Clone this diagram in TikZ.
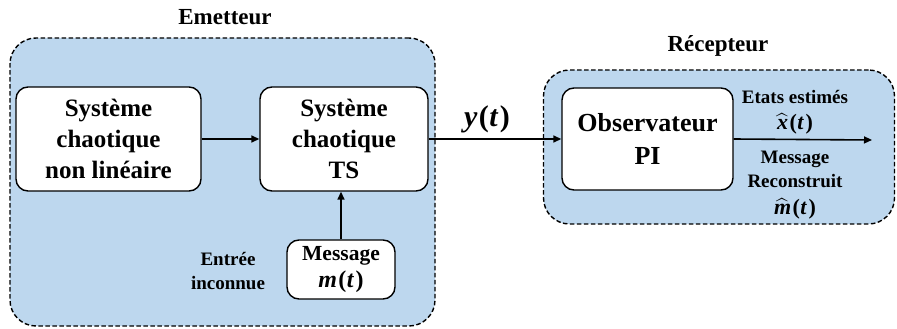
\documentclass[tikz,border=0pt]{standalone}
\usepackage{fontspec}
\setmainfont{Liberation Serif}
\usepackage{amsmath}
\usetikzlibrary{arrows.meta}
\definecolor{panelblue}{RGB}{189,215,238}
% bold italic symbol set in the text face
\newcommand{\bfit}[1]{\textbf{\textit{#1}}}
% signal of time: symbol, then (t), loosely spaced
\newcommand{\sig}[1]{#1\kern1.5pt(\kern0.5pt\bfit{t}\kern1.5pt)}
\begin{document}
\begin{tikzpicture}[x=1pt,y=-1pt,
  panel/.style={draw, dash pattern=on 4.5pt off 2.5pt, line width=1.4pt,
    fill=panelblue, rounded corners=26pt, inner sep=0pt},
  block/.style={draw, line width=1.4pt, fill=white, rounded corners=12pt,
    align=center, inner sep=0pt, font=\bfseries\fontsize{25}{31}\selectfont},
  link/.style={line width=1.6pt, -{Triangle[length=8pt,width=7pt]}},
  title/.style={font=\bfseries\fontsize{23}{27}\selectfont},
  lbl/.style={font=\bfseries\fontsize{19}{23}\selectfont, align=center, inner sep=1pt},
  sym/.style={font=\bfseries\fontsize{22}{26}\selectfont, inner sep=1pt}]
  \useasboundingbox (0,0) rectangle (897,329);

  % transmitter and receiver panels
  \node[panel, minimum width=425pt, minimum height=288pt] (tx) at (222.5,182) {};
  \node[panel, minimum width=351pt, minimum height=154pt] (rx) at (719,147) {};
  \node[title] (txlbl) at (225,17) {Emetteur};
  \node[title] (rxlbl) at (718,46) {Récepteur};

  % blocks
  \node[block, minimum width=185pt, minimum height=104pt] (nl) at (108.5,139)
    {Système\\chaotique\\non linéaire};
  \node[block, minimum width=168pt, minimum height=104pt] (ts) at (344,139)
    {Système\\chaotique\\TS};
  \node[block, minimum width=108pt, minimum height=59pt,
    font=\bfseries\fontsize{21.5}{27}\selectfont] (msg) at (341,269.5)
    {Message\\{\fontsize{24}{27}\selectfont\sig{\bfit{m}}}};
  \node[block, minimum width=171pt, minimum height=102pt,
    font=\bfseries\fontsize{26}{33}\selectfont] (obs) at (647.5,139)
    {Observateur\\PI};
  \coordinate (out) at (872,140);

  % labels
  \node[lbl, font=\bfseries\fontsize{19}{24}\selectfont] (unk) at (228,271)
    {Entrée\\inconnue};
  \node[font=\bfseries\fontsize{30}{34}\selectfont] (yt) at (487,119)
    {\sig{\bfit{y}}};
  \node[lbl] (est) at (795,97) {Etats estimés};
  \node[sym] (xh) at (795,124) {\sig{$\widehat{\text{\bfit{x}}}$}};
  \node[lbl] (rm) at (795,159) {Message};
  \node[lbl] (rr) at (795,181) {Reconstruit};
  \node[sym] (mh) at (795,209) {\sig{$\widehat{\text{\bfit{m}}}$}};

  % connections
  \draw[link] (nl.east) -- (ts.west);
  \draw[link] (msg.north) -- (msg.north |- ts.south);
  \draw[link] (ts.east) -- (obs.west);
  \draw[link] (obs.east) -- (out);
\end{tikzpicture}
\end{document}
